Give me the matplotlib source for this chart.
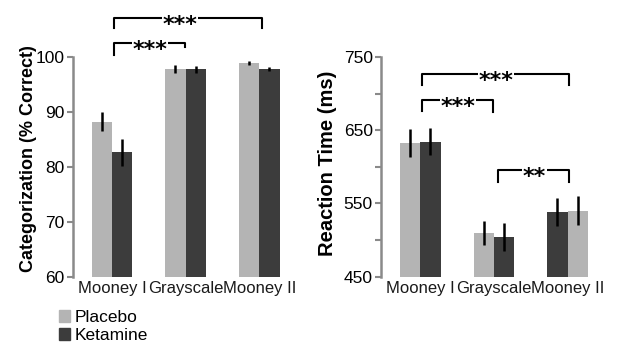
import matplotlib.pyplot as plt
import matplotlib.patches as mpatches
import numpy as np

plt.rcParams["font.family"] = ["Liberation Sans", "DejaVu Sans"]

categories = ["Mooney I", "Grayscale", "Mooney II"]

# categorization accuracy (% correct)
cat_placebo = [88.3, 97.9, 99.0]
cat_placebo_err = [1.8, 0.7, 0.4]
cat_ketamine = [82.7, 97.8, 97.9]
cat_ketamine_err = [2.5, 0.65, 0.35]

# reaction time (ms)
rt_placebo = [632, 510, 540]
rt_placebo_err = [19, 16.5, 20]
rt_ketamine = [634, 504, 538]
rt_ketamine_err = [18.5, 19, 18.7]

# significance brackets: (x0, x1, y, leg0, leg1, star_x, label)
cat_brackets = [
    (0.03, 2.03, 107.1, 105.3, 105.3, 0.92, "***"),
    (0.03, 0.99, 102.65, 100.4, 101.9, 0.52, "***"),
]
rt_brackets = [
    (0.02, 2.02, 726.4, 711, 711, 1.03, "***"),
    (0.02, 0.99, 691.8, 676, 675, 0.51, "***"),
    (1.06, 2.02, 595.4, 579.5, 579.5, 1.55, "**"),
]

LIGHT = "#b4b4b4"
DARK = "#3c3c3c"
SPINE = "#8a8a8a"
width = 0.275


def draw_panel(ax, placebo, placebo_err, ketamine, ketamine_err, placebo_side, brackets, ylim, yticks, minor):
    x = np.arange(len(categories))
    side = np.array(placebo_side)
    xp = x + side * width / 2
    xk = x - side * width / 2
    ax.bar(xp, placebo, width, color=LIGHT, zorder=1)
    ax.bar(xk, ketamine, width, color=DARK, zorder=1)
    ax.errorbar(xp, placebo, yerr=placebo_err, fmt="none", ecolor="black", elinewidth=1.8, capsize=0, zorder=2)
    ax.errorbar(xk, ketamine, yerr=ketamine_err, fmt="none", ecolor="black", elinewidth=1.8, capsize=0, zorder=2)

    ax.set_xlim(-0.533, 2.533)
    ax.set_ylim(*ylim)
    ax.set_yticks(yticks)
    if minor:
        ax.set_yticks(minor, minor=True)
    ax.set_xticks(x)
    ax.set_xticklabels(categories, fontsize=12, color="#1a1a1a")
    ax.tick_params(axis="x", length=0, pad=3)
    ax.tick_params(axis="y", which="both", length=4, width=1.5, color=SPINE, labelsize=12.5, pad=2)
    for s in ["top", "right", "bottom"]:
        ax.spines[s].set_visible(False)
    ax.spines["left"].set_color(SPINE)
    ax.spines["left"].set_linewidth(1.8)

    for x0, x1, y, l0, l1, sx, label in brackets:
        ax.plot([x0, x0, x1, x1], [l0, y, y, l1], color="black", lw=1.5, clip_on=False, zorder=3)
        ax.annotate(label, xy=(sx, y), xytext=(0, -7), textcoords="offset pixels",
                    ha="center", va="center", fontsize=16, fontweight="bold",
                    family="DejaVu Sans", annotation_clip=False, zorder=4,
                    bbox=dict(fc="white", ec="none", pad=0.5))


fig = plt.figure(figsize=(6.25, 3.47), dpi=100)
ax1 = fig.add_axes([0.1163, 0.2017, 0.3614, 0.6332])
ax2 = fig.add_axes([0.6096, 0.2030, 0.3614, 0.6330])

draw_panel(ax1, cat_placebo, cat_placebo_err, cat_ketamine, cat_ketamine_err, [-1, -1, -1],
           cat_brackets, (60, 100), [60, 70, 80, 90, 100], None)
draw_panel(ax2, rt_placebo, rt_placebo_err, rt_ketamine, rt_ketamine_err, [-1, -1, 1],
           rt_brackets, (450, 750), [450, 550, 650, 750], [500, 600, 700])

fig.text(0.045, 0.543, "Categorization (% Correct)", rotation=90, ha="center", va="center",
         fontsize=13, fontweight="bold")
fig.text(0.524, 0.529, "Reaction Time (ms)", rotation=90, ha="center", va="center",
         fontsize=14.5, fontweight="bold")

handles = [mpatches.Patch(color=LIGHT, label="Placebo"), mpatches.Patch(color=DARK, label="Ketamine")]
fig.legend(handles=handles, loc="upper left", bbox_to_anchor=(0.095, 0.108), frameon=False,
           fontsize=12.5, handlelength=0.6, handleheight=0.75, handletextpad=0.3,
           labelspacing=0.15, borderpad=0, borderaxespad=0)

fig.savefig("out.png", dpi=100)
